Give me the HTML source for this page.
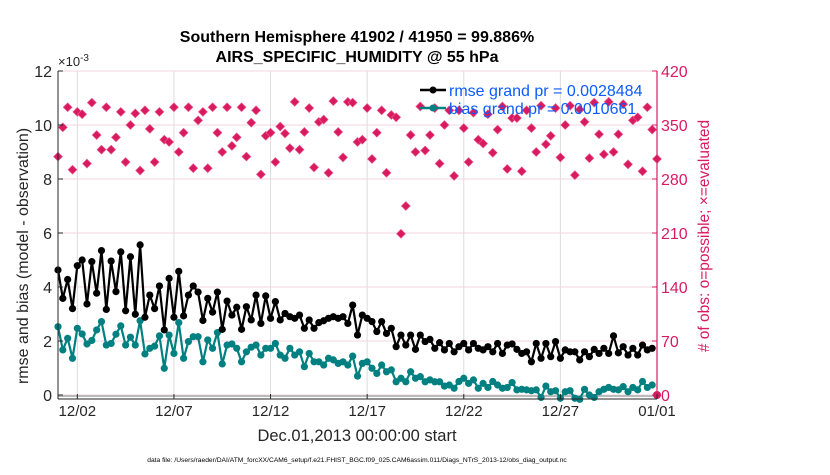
<!DOCTYPE html>
<html><head><meta charset="utf-8"><style>
body{margin:0;background:#fff;}
svg text{font-family:"Liberation Sans",Arial,sans-serif;}
</style></head><body>
<svg id="chart" width="830" height="470" viewBox="0 0 830 470" xmlns="http://www.w3.org/2000/svg">
<g id="grid"></g>
<g id="marks"></g>
<g id="axes"></g>
<text x="357" y="42" text-anchor="middle" font-size="16" font-weight="bold">Southern Hemisphere 41902 / 41950 = 99.886%</text>
<text x="357" y="62" text-anchor="middle" font-size="16" font-weight="bold">AIRS_SPECIFIC_HUMIDITY @ 55 hPa</text>
<text x="58" y="66" font-size="13" fill="#262626">×10<tspan dy="-5" font-size="10">-3</tspan></text>
<text transform="translate(28,256) rotate(-90)" text-anchor="middle" font-size="16" fill="#262626">rmse and bias (model - observation)</text>
<text transform="translate(709,236) rotate(-90)" text-anchor="middle" font-size="15.5" fill="#d81b60"># of obs: o=possible; ×=evaluated</text>
<text x="357" y="441" text-anchor="middle" font-size="16.5" fill="#262626">Dec.01,2013 00:00:00 start</text>
<text x="357" y="462" text-anchor="middle" font-size="6.7" fill="#000">data file: /Users/raeder/DAI/ATM_forcXX/CAM6_setup/f.e21.FHIST_BGC.f09_025.CAM6assim.011/Diags_NTrS_2013-12/obs_diag_output.nc</text>
<g>
<line x1="420" y1="90" x2="446" y2="90" stroke="#000" stroke-width="2.5"/><circle cx="433" cy="90" r="3.5" fill="#000"/>
<text x="449" y="96" font-size="16" fill="#0a5cff">rmse grand pr = 0.0028484</text>
<line x1="420" y1="108" x2="446" y2="108" stroke="#008080" stroke-width="2.5"/><circle cx="433" cy="108" r="3.5" fill="#008080"/>
<text x="449" y="114" font-size="16" fill="#0a5cff">bias grand pr = 0.0010661</text>
</g>
</svg>
<script>
const rmse=[4.63,3.58,4.28,3.2,4.79,5.0,3.37,4.94,3.77,5.35,3.17,4.96,3.83,5.3,3.12,5.12,2.99,5.56,2.88,3.7,3.2,4.04,2.41,4.32,2.88,4.58,2.93,3.7,4.04,3.81,2.76,3.58,3.07,3.81,2.43,3.48,2.96,3.25,2.43,3.27,
2.78,3.7,2.65,3.67,2.84,3.46,2.78,3.02,2.9,2.84,2.96,2.47,2.78,2.47,2.68,2.75,2.84,2.9,2.84,2.9,2.65,3.33,2.22,2.96,2.84,2.72,2.35,2.72,2.28,2.47,1.79,2.22,1.85,2.22,1.69,2.22,1.98,2.06,1.73,1.94,1.67,
1.91,1.6,1.79,1.91,1.67,1.91,1.73,1.67,1.79,1.6,1.91,1.54,1.85,1.89,1.69,1.54,1.6,1.23,1.91,1.36,1.91,1.42,1.98,1.36,1.67,1.6,1.6,1.3,1.6,1.42,1.69,1.54,1.73,1.54,2.19,1.56,1.79,1.48,1.73,1.48,1.85,1.67,1.73];
const bias=[2.53,1.67,2.1,1.36,2.47,2.26,1.89,2.02,2.41,2.72,1.85,1.91,2.25,2.56,1.85,2.14,1.85,2.75,1.52,1.73,1.81,2.19,0.99,2.22,1.54,2.68,1.36,1.98,2.16,2.16,1.23,2.04,1.73,2.31,1.15,1.85,1.89,1.73,1.23,1.6,1.77,1.85,1.48,
1.73,1.73,1.91,1.48,1.36,1.73,1.48,1.6,1.05,1.54,1.23,1.23,1.11,1.36,1.3,1.17,1.23,1.11,1.44,0.7,1.17,1.23,0.99,0.8,1.11,0.86,0.93,0.49,0.62,0.49,0.86,0.62,0.68,0.49,0.56,0.49,0.49,0.33,
0.37,0.25,0.5,0.62,0.43,0.56,0.25,0.43,0.28,0.5,0.37,0.25,0.28,0.46,0.19,0.21,0.19,0.16,0.19,-0.09,0.33,0.12,0.16,-0.12,0.12,0.16,-0.12,-0.16,0.21,0,-0.09,0.12,0.21,0.28,0.21,0.19,0.31,0.12,0.28,0.19,0.5,0.28,0.37];
const counts=[309,347,373,292,367,364,300,379,337,318,373,318,334,367,302,350,365,291,369,345,302,367,331,328,373,315,340,373,294,356,367,294,373,340,315,373,323,334,373,309,353,369,286,336,340,302,348,339,320,380,318,341,372,295,354,357,288,381,341,308,380,
379,328,331,372,306,340,369,288,363,360,209,245,337,315,374,317,337,372,300,350,369,284,369,346,302,366,331,326,364,314,344,374,293,359,359,290,369,346,315,375,325,336,372,308,350,375,285,370,354,307,379,338,312,380,315,338,377,299,356,360,290,373,344,306];
const xTickLabels=["12/02","12/07","12/12","12/17","12/22","12/27","01/01"];
const xTickDays=[1,6,11,16,21,26,31];
const yTicks=[0,2,4,6,8,10,12];
const y2Ticks=[0,70,140,210,280,350,420];

const NS="http://www.w3.org/2000/svg";
const L=58,R=657,T=71,Y0=395,B=399;
const xs=d=>L+d*(R-L)/31;
const ys=v=>Y0-v*(Y0-T)/12;
const y2s=v=>Y0-v*(Y0-T)/420;
function mk(tag,attrs,parent){const e=document.createElementNS(NS,tag);for(const k in attrs)e.setAttribute(k,attrs[k]);parent.appendChild(e);return e;}
const grid=document.getElementById('grid'),marks=document.getElementById('marks'),axes=document.getElementById('axes');
xTickDays.forEach(d=>{if(d>=31)return;const g=mk('line',{x1:xs(d),x2:xs(d),y1:T,y2:B,stroke:'#dcdcdc','stroke-width':1},grid);

});
y2Ticks.forEach(v=>{const g=mk('line',{x1:L,x2:R,y1:y2s(v),y2:y2s(v),stroke:'#f0d6e0','stroke-width':1},grid);

});
const zl=mk('line',{x1:L,x2:R,y1:Y0+1,y2:Y0+1,stroke:'#bbbbbb','stroke-width':2},grid);


counts.forEach((c,i)=>{const x=xs(i*0.25),y=y2s(c);
const p=mk('path',{d:`M${x-4.5},${y}L${x},${y-4.5}L${x+4.5},${y}L${x},${y+4.5}Z`,fill:'#d81b60',stroke:'#f06090','stroke-width':0.6},marks);

});
function series(arr,col,name){
const pts=arr.map((v,i)=>xs(i*0.25)+','+ys(v)).join(' ');
const pl=mk('polyline',{points:pts,fill:'none',stroke:col,'stroke-width':2.2,'stroke-linejoin':'round'},marks);


arr.forEach((v,i)=>{const c=mk('circle',{cx:xs(i*0.25),cy:ys(v),r:3.6,fill:col},marks);

});}
series(bias,'#008080','bias');
series(rmse,'#000000','rmse');
const rd=mk('circle',{cx:R,cy:Y0,r:4,fill:'#d81b60'},marks);


const la=mk('line',{x1:L,x2:L,y1:T,y2:B,stroke:'#262626','stroke-width':1},axes);


const ba=mk('line',{x1:L,x2:R,y1:B,y2:B,stroke:'#262626','stroke-width':1},axes);


const ra=mk('line',{x1:R,x2:R,y1:T,y2:B,stroke:'#d81b60','stroke-width':1.2},axes);


yTicks.forEach(v=>{const y=ys(v);mk('line',{x1:L,x2:L+5,y1:y,y2:y,stroke:'#262626'},axes);
const t=mk('text',{x:L-6,y:y+6,'text-anchor':'end','font-size':16,fill:'#262626'},axes);t.textContent=v;

});
y2Ticks.forEach(v=>{const y=y2s(v);mk('line',{x1:R-5,x2:R,y1:y,y2:y,stroke:'#d81b60'},axes);
const t=mk('text',{x:R+4,y:y+6,'font-size':16,fill:'#d81b60'},axes);t.textContent=v;

});
xTickDays.forEach((d,i)=>{const x=xs(d);mk('line',{x1:x,x2:x,y1:B,y2:B-5,stroke:'#262626'},axes);
const t=mk('text',{x:x,y:B+17,'text-anchor':'middle','font-size':15,fill:'#262626'},axes);t.textContent=xTickLabels[i];

});
</script>
</body></html>
